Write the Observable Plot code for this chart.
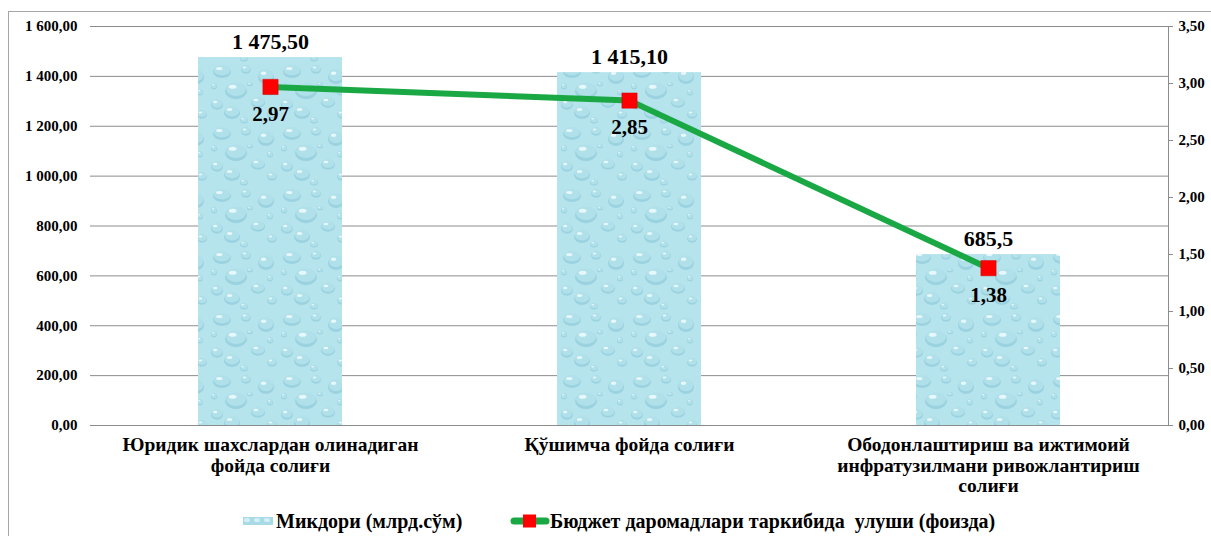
<!DOCTYPE html>
<html><head><meta charset="utf-8">
<script src="https://cdn.jsdelivr.net/npm/d3@7"></script>
<script src="https://cdn.jsdelivr.net/npm/@observablehq/plot@0.6"></script>
<style>
body{margin:0;background:#fff;font-family:"Liberation Serif","DejaVu Serif",serif;width:1211px;height:536px;overflow:hidden;position:relative;}
#frame{position:absolute;left:8px;top:11px;width:1230px;height:560px;border:1px solid #a6a6a6;}
#chart{position:absolute;left:0;top:0;}
.leg{position:absolute;top:508px;font-weight:bold;font-size:20px;line-height:26px;color:#000;white-space:pre;font-family:"Liberation Serif","DejaVu Serif",serif;}
</style></head>
<body>
<div id="frame"></div>
<div id="chart"></div>
<svg style="position:absolute;left:243px;top:517px" width="30" height="8"><rect width="30" height="8" fill="url(#dropsLeg)"/>
<defs><pattern id="dropsLeg" width="10" height="8" patternUnits="userSpaceOnUse"><rect width="10" height="8" fill="#a9dbe6"/><ellipse cx="4" cy="3" rx="3" ry="2" fill="#d3f0f6"/></pattern></defs></svg>
<div class="leg" style="left:276px">Микдори (млрд.сўм)</div>
<svg style="position:absolute;left:510px;top:513px" width="40" height="16"><line x1="4" y1="8" x2="36" y2="8" stroke="#1aa845" stroke-width="7" stroke-linecap="round"/><rect x="13" y="1.5" width="13" height="13" fill="#ff0000"/></svg>
<div class="leg" style="left:550px">Бюджет даромадлари таркибида  улуши (фоизда)</div>
<script>
const categories = [
  "Юридик шахслардан олинадиган\nфойда солиғи",
  "Қўшимча фойда солиғи",
  "Ободонлаштириш ва ижтимоий\nинфратузилмани ривожлантириш\nсолиғи"
];
const amounts = [1475.5, 1415.1, 685.5];
const amountLabels = ["1 475,50", "1 415,10", "685,5"];
const shares = [2.97, 2.85, 1.38];
const shareLabels = ["2,97", "2,85", "1,38"];
const leftTicks = [0, 200, 400, 600, 800, 1000, 1200, 1400, 1600];
const rightTicks = [0, 0.5, 1, 1.5, 2, 2.5, 3, 3.5];

const leftMax = 1600, rightMax = 3.5;
const k = leftMax / rightMax; // maps the right-axis scale onto the left one

const data = categories.map((c, i) => ({
  cat: c, amount: amounts[i], amountLabel: amountLabels[i],
  share: shares[i], shareY: shares[i] * k, shareLabel: shareLabels[i]
}));

const loc = d3.formatLocale({decimal: ",", thousands: " ", grouping: [3], currency: ["", ""]});
const fmt = loc.format(",.2f");
const serif = "Liberation Serif, DejaVu Serif, serif";

const chart = Plot.plot({
  width: 1211,
  height: 500,
  marginTop: 26,
  marginBottom: 75,
  marginLeft: 90,
  marginRight: 43,
  style: {fontFamily: serif, background: "transparent"},
  x: {domain: categories, paddingInner: 0.6, paddingOuter: 0.3, axis: null},
  y: {domain: [0, leftMax], axis: null},
  marks: [
    Plot.gridY(leftTicks, {stroke: "#8c8c8c", strokeOpacity: 1, strokeWidth: 1}),
    Plot.barY(data, {x: "cat", y: "amount", fill: "url(#drops)"}),
    Plot.gridY([0], {stroke: "#8c8c8c", strokeOpacity: 1}),
    Plot.axisY({anchor: "left", ticks: leftTicks, tickFormat: fmt, tickSize: 0, tickPadding: 13,
      fontSize: 15, fontWeight: "bold", fill: "#000", fontFamily: serif}),
    Plot.axisY({anchor: "right", ticks: rightTicks.map(v => v * k), tickFormat: d => fmt(d / k),
      tickSize: 4, tickPadding: 6, fontSize: 15, fontWeight: "bold", fill: "#000", stroke: "#8c8c8c", fontFamily: serif}),
    Plot.frame({anchor: "right", stroke: "#8c8c8c"}),
    Plot.text(data, {x: "cat", y: "amount", text: "amountLabel", dy: -16, fontSize: 22, fontWeight: "bold", fill: "#000", fontFamily: serif}),
    Plot.line(data, {x: "cat", y: "shareY", stroke: "#1aa845", strokeWidth: 6}),
    Plot.dot(data, {x: "cat", y: "shareY", symbol: "square", r: 8.6, fill: "#ff0000", stroke: "#d00000", strokeWidth: 0.5}),
    Plot.text(data, {x: "cat", y: "shareY", text: "shareLabel", dy: 27, fontSize: 21, fontWeight: "bold", fill: "#000", fontFamily: serif}),
    Plot.text(data, {x: "cat", text: "cat", frameAnchor: "bottom", lineAnchor: "top", dy: 11,
      fontSize: 19.5, fontWeight: "bold", lineHeight: 1.05, fill: "#000", fontFamily: serif})
  ]
});

// water-drop style fill pattern
const svg = d3.select(chart);
const defs = svg.insert("defs", ":first-child");
const pat = defs.append("pattern").attr("id", "drops").attr("width", 70).attr("height", 62).attr("patternUnits", "userSpaceOnUse");
pat.append("rect").attr("width", 70).attr("height", 62).attr("fill", "#b6e4ed");
const drops = [[12,9,9,6],[36,7,5,4],[56,14,8,7],[26,28,11,8],[7,42,6,5],[48,40,7,5],[62,52,5,4],[22,50,8,6],[40,22,3,2],[4,24,3,3],[34,58,4,3],[60,30,3,3]];
for (const [cx, cy, rx, ry] of drops) {
  pat.append("ellipse").attr("cx", cx).attr("cy", cy + ry * 0.15).attr("rx", rx).attr("ry", ry)
    .attr("fill", "#93cddc").attr("opacity", 0.8);
  pat.append("ellipse").attr("cx", cx).attr("cy", cy - ry * 0.1).attr("rx", rx * 0.9).attr("ry", ry * 0.85)
    .attr("fill", "#b0e0ea");
  pat.append("ellipse").attr("cx", cx - rx * 0.3).attr("cy", cy - ry * 0.4).attr("rx", rx * 0.35).attr("ry", ry * 0.25)
    .attr("fill", "#e6f8fb");
}
document.getElementById("chart").append(chart);
</script>
</body></html>
